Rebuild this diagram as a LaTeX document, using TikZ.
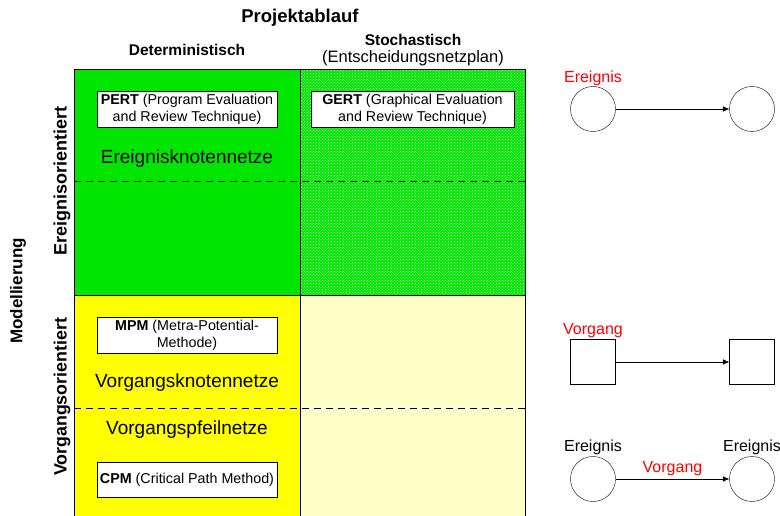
\documentclass[tikz,border=0pt]{standalone}
\usepackage{fontspec}
\setmainfont{Liberation Sans}
\usetikzlibrary{positioning,patterns,arrows.meta}
\definecolor{ereignisgruen}{RGB}{0,230,0}
\definecolor{vorganggelb}{RGB}{255,255,0}
\definecolor{stochgelb}{RGB}{255,255,200}
\begin{document}
\begin{tikzpicture}[x=1pt, y=-1pt,
    techbox/.style={draw, fill=white, minimum width=180pt, minimum height=36pt, align=center, inner sep=1pt, font=\fontsize{14.3}{17}\selectfont},
    netzlabel/.style={font=\fontsize{19}{22}\selectfont},
    kopf/.style={font=\bfseries\fontsize{15.5}{18}\selectfont},
    ereignis/.style={draw, circle, minimum size=45pt, inner sep=0pt},
    vorgang/.style={draw, minimum size=45pt, inner sep=0pt},
    beschriftung/.style={font=\fontsize{16}{18}\selectfont, inner sep=1pt},
    pfeil/.style={-{Latex[length=6.5pt,width=5.5pt]}}]
    \useasboundingbox (0,0) rectangle (780,516);

    % Felder der Matrix
    \fill[ereignisgruen] (74,69) rectangle (300,295);
    \fill[ereignisgruen] (300,69) rectangle (525,295);
    \fill[pattern=crosshatch dots, pattern color=white!85!ereignisgruen] (300,69) rectangle (525,295);
    \fill[vorganggelb] (74,295) rectangle (300,517);
    \fill[stochgelb] (300,295) rectangle (525,517);
    \draw (74,517) -- (74,69) -- (525,69) -- (525,517);
    \draw (300,69) -- (300,517);
    \draw (74,295) -- (525,295);
    \draw[dashed, dash pattern=on 7pt off 5pt] (74,181) -- (525,181);
    \draw[dashed, dash pattern=on 7pt off 5pt] (74,408) -- (525,408);

    % Ueberschriften
    \node[font=\bfseries\fontsize{18.5}{21}\selectfont] (projekt) at (300,18) {Projektablauf};
    \node[kopf] (determ) at (187,50) {Deterministisch};
    \node[kopf] (stoch) at (413,40) {Stochastisch};
    \node[font=\fontsize{16.5}{19}\selectfont, below=-2pt of stoch] (entsch) {(Entscheidungsnetzplan)};
    \node[font=\bfseries\fontsize{17}{20}\selectfont, rotate=90] (modell) at (18,291) {Modellierung};
    \node[font=\bfseries\fontsize{18}{21}\selectfont, rotate=90] (ereignisor) at (62,181) {Ereignisorientiert};
    \node[font=\bfseries\fontsize{17.8}{21}\selectfont, rotate=90] (vorgangsor) at (62,397) {Vorgangsorientiert};

    % Verfahren
    \node[techbox] (pert) at (187,109.5) {\textbf{PERT} (Program Evaluation\\and Review Technique)};
    \node[techbox, minimum width=203pt] (gert) at (412.5,109.5) {\textbf{GERT} (Graphical Evaluation\\and Review Technique)};
    \node[techbox] (mpm) at (187,335) {\textbf{MPM} (Metra-Potential-\\Methode)};
    \node[techbox, minimum height=35pt] (cpm) at (187,479.5) {\textbf{CPM} (Critical Path Method)};
    \node[netzlabel] (ekn) at (187,159) {Ereignisknotennetze};
    \node[netzlabel] (vkn) at (187,383) {Vorgangsknotennetze};
    \node[netzlabel] (vpn) at (187,430) {Vorgangspfeilnetze};

    % Legende rechts
    \node[ereignis] (e1) at (593,109) {};
    \node[ereignis] (e2) at (752,109) {};
    \node[beschriftung, text=red, above=-1pt of e1] (e1lab) {Ereignis};
    \node[vorgang] (v1) at (593,362) {};
    \node[vorgang] (v2) at (752,362) {};
    \node[beschriftung, text=red, above=0pt of v1] (v1lab) {Vorgang};
    \node[ereignis] (e3) at (593,479) {};
    \node[ereignis] (e4) at (752,479) {};
    \node[beschriftung, above=0pt of e3] (e3lab) {Ereignis};
    \node[beschriftung, above=0pt of e4] (e4lab) {Ereignis};

    % Verbindungen
    \foreach \source/\dest in {e1/e2, v1/v2} {
        \draw[pfeil] (\source) -- (\dest);
    }
    \draw[pfeil] (e3) -- node[beschriftung, text=red, above=2pt] (vlab) {Vorgang} (e4);
\end{tikzpicture}
\end{document}
